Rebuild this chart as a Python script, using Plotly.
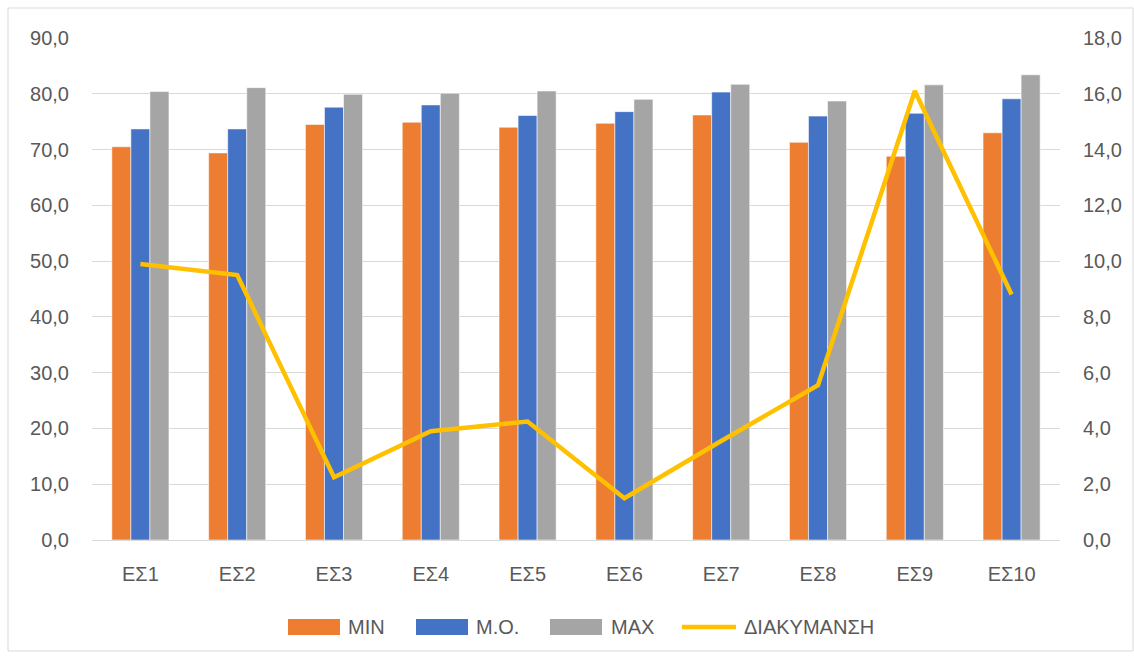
import plotly.graph_objects as go

categories = ["ΕΣ1", "ΕΣ2", "ΕΣ3", "ΕΣ4", "ΕΣ5", "ΕΣ6", "ΕΣ7", "ΕΣ8", "ΕΣ9", "ΕΣ10"]
min_vals = [70.5, 69.4, 74.5, 74.9, 74.0, 74.7, 76.2, 71.3, 68.8, 73.0]
mo_vals = [73.7, 73.7, 77.6, 78.0, 76.1, 76.8, 80.3, 76.0, 76.5, 79.1]
max_vals = [80.4, 81.1, 79.9, 80.1, 80.5, 79.0, 81.7, 78.7, 81.6, 83.4]
range_vals = [9.9, 9.5, 2.25, 3.9, 4.25, 1.5, 3.55, 5.55, 16.1, 8.8]
left_ticks = list(range(0, 91, 10))
right_ticks = list(range(0, 19, 2))
series_names = ["MIN", "M.O.", "MAX", "ΔΙΑΚΥΜΑΝΣΗ"]
series_colors = ["#ED7D31", "#4472C4", "#A5A5A5", "#FFC000"]

FONT = "Liberation Sans"
TXT = "#595959"
GRID = "#D9D9D9"

W, H = 1134, 657
ML, MR, MT, MB = 92, 74, 38, 117
PW, PH = W - ML - MR, H - MT - MB


def px(x):
    return (x - ML) / PW


def py(y):
    return (H - MB - y) / PH


fig = go.Figure()
for name, vals, col in zip(series_names[:3], [min_vals, mo_vals, max_vals], series_colors[:3]):
    fig.add_trace(go.Bar(
        x=categories, y=vals, name=name,
        marker=dict(color=col, line=dict(color="rgba(255,255,255,0.55)", width=1)),
        yaxis="y", showlegend=False,
    ))
fig.add_trace(go.Scatter(
    x=categories, y=range_vals, name=series_names[3], mode="lines",
    line=dict(color=series_colors[3], width=4.5), yaxis="y2", showlegend=False,
))

# custom legend (Excel style wide swatches)
legend_items = [
    (288, 340, 346, "rect"),
    (416, 468, 474, "rect"),
    (550, 602, 609, "rect"),
    (682, 736, 742, "line"),
]
shapes = []
annotations = []
ly = 627
for (x0, x1, tx, kind), name, col in zip(legend_items, series_names, series_colors):
    if kind == "rect":
        shapes.append(dict(type="rect", xref="paper", yref="paper",
                           x0=px(x0), x1=px(x1), y0=py(ly + 8), y1=py(ly - 8),
                           fillcolor=col, line=dict(width=0)))
    else:
        shapes.append(dict(type="line", xref="paper", yref="paper",
                           x0=px(x0), x1=px(x1), y0=py(ly), y1=py(ly),
                           line=dict(color=col, width=4.5)))
    annotations.append(dict(xref="paper", yref="paper", x=px(tx), y=py(ly),
                            xanchor="left", yanchor="middle", showarrow=False,
                            text=name, font=dict(family=FONT, size=20, color=TXT)))

# chart border
shapes.append(dict(type="rect", xref="paper", yref="paper",
                   x0=px(8), x1=px(1133), y0=py(651), y1=py(8),
                   line=dict(color="#D9D9D9", width=1), fillcolor="rgba(0,0,0,0)", layer="below"))

fig.update_layout(
    width=W, height=H,
    margin=dict(l=ML, r=MR, t=MT, b=MB),
    paper_bgcolor="white", plot_bgcolor="white",
    separators=", ",
    barmode="group", bargap=0.41, bargroupgap=0,
    font=dict(family=FONT, size=20, color=TXT),
    xaxis=dict(showline=True, linecolor=GRID, linewidth=1, ticks="",
               tickfont=dict(family=FONT, size=20, color=TXT), ticklabelstandoff=16,
               showgrid=False),
    yaxis=dict(range=[0, 90], tickvals=left_ticks, tickformat=".1f",
               showgrid=True, gridcolor=GRID, gridwidth=1, zeroline=False,
               ticks="", ticklabelstandoff=22,
               tickfont=dict(family=FONT, size=20, color=TXT)),
    yaxis2=dict(range=[0, 18], tickvals=right_ticks, tickformat=".1f",
                overlaying="y", side="right", showgrid=False, zeroline=False,
                ticks="", ticklabelstandoff=22,
                tickfont=dict(family=FONT, size=20, color=TXT)),
    shapes=shapes, annotations=annotations,
    showlegend=False,
)

fig.write_html(
    "out.html",
    config={"displayModeBar": False},
    post_script="document.body.style.margin='0';document.body.style.overflow='hidden';",
)
